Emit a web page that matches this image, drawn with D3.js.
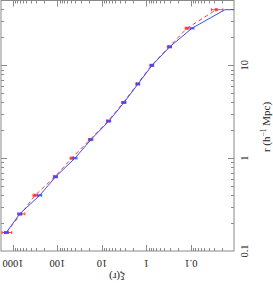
<!DOCTYPE html>
<html>
<head>
<meta charset="utf-8">
<script src="https://cdn.jsdelivr.net/npm/d3@7"></script>
<style>
  body { margin: 0; background: #fff; }
  svg { display: block; font-family: "Liberation Serif", "DejaVu Serif", serif; }
</style>
</head>
<body>
<svg width="273" height="286"></svg>
<script>
// separation r (h^-1 Mpc), shared by both series
const radii = [0.158, 0.251, 0.398, 0.631, 1.0, 1.585, 2.51, 3.98, 6.31, 10, 15.85, 25.1, 39.8, 39.8];
// blue solid series
const xiBlue = [1415, 706, 251, 110, 40.5, 17.7, 7.0, 3.2, 1.55, 0.75, 0.30, 0.095, 0.0172, 0.01];
const errBlue = [140, 60, 25, 10, 4, 1.6, 0.6, 0.3, 0.13, 0.06, 0.025, 0.009, 0, 0];
// red dashed series
const xiRed = [1415, 661, 320, 114, 48, 18.6, 7.3, 3.3, 1.6, 0.77, 0.31, 0.123, 0.027];
const errRed = [350, 120, 35, 10, 4, 1.6, 0.6, 0.3, 0.13, 0.07, 0.03, 0.012, 0.0078];
const xiTicks = [1000, 100, 10, 1, 0.1];
const rTicks = [10, 1, 0.1];

const svg = d3.select("svg");
const pl = 1, pr = 234, pt = 0.5, pb = 251;

const x = d3.scaleLog().domain([1860, 0.0108]).range([pl, pr]);
const y = d3.scaleLog().domain([0.1, 50]).range([pb, pt]);

svg.append("clipPath").attr("id", "clip")
  .append("rect").attr("x", pl).attr("y", pt)
  .attr("width", pr - pl).attr("height", pb - pt);

const frameColor = "#8a8a8a";
const isMajor = (v) => Math.abs(Math.log10(v) - Math.round(Math.log10(v))) < 1e-6;

// frame with ticks on all four sides, pointing inwards
svg.append("rect")
  .attr("x", pl).attr("y", pt)
  .attr("width", pr - pl).attr("height", pb - pt)
  .attr("fill", "none").attr("stroke", frameColor).attr("stroke-width", 1);

const xt = x.ticks().filter((v) => x(v) > pl + 0.5 && x(v) < pr - 0.5);
const yt = y.ticks().filter((v) => y(v) > pt + 0.5 && y(v) < pb - 0.5);

const ticks = svg.append("g").attr("stroke", frameColor).attr("stroke-width", 1);
xt.forEach((v) => {
  const len = isMajor(v) ? 6 : 3;
  const px = Math.round(x(v)) + 0.5;
  ticks.append("line").attr("x1", px).attr("x2", px).attr("y1", pb).attr("y2", pb - len);
  ticks.append("line").attr("x1", px).attr("x2", px).attr("y1", pt).attr("y2", pt + len);
});
yt.forEach((v) => {
  const len = isMajor(v) ? 6 : 3;
  const py = Math.round(y(v)) + 0.5;
  ticks.append("line").attr("y1", py).attr("y2", py).attr("x1", pr).attr("x2", pr - len);
  ticks.append("line").attr("y1", py).attr("y2", py).attr("x1", pl).attr("x2", pl + len);
});

// tick labels (the figure is rotated: bottom labels upside down, right labels turned)
const fmt = (v) => (v < 1 ? "0.1" : String(v));
svg.append("g").selectAll("text").data(xiTicks).join("text")
  .attr("transform", (d) => `translate(${x(d)},${pb + 9}) rotate(180)`)
  .attr("text-anchor", "middle")
  .attr("font-size", 10.5)
  .attr("fill", "#222")
  .text(fmt);

svg.append("g").selectAll("text").data(rTicks).join("text")
  .attr("transform", (d) => `translate(${pr + 14},${y(d)}) rotate(-90)`)
  .attr("text-anchor", "middle")
  .attr("font-size", 10.5)
  .attr("fill", "#222")
  .text(fmt);

svg.append("text")
  .attr("transform", `translate(${x(10) + 15},${pb + 22}) rotate(180)`)
  .attr("text-anchor", "middle")
  .attr("font-size", 11)
  .attr("fill", "#222")
  .text("ξ(r)");

const rLabel = svg.append("text")
  .attr("transform", `translate(${pr + 36},${127}) rotate(-90)`)
  .attr("text-anchor", "middle")
  .attr("font-size", 11)
  .attr("fill", "#222");
rLabel.append("tspan").text("r (h");
rLabel.append("tspan").attr("dy", -4).attr("font-size", 7.5).text("−1");
rLabel.append("tspan").attr("dy", 4).text(" Mpc)");

// data
const plot = svg.append("g").attr("clip-path", "url(#clip)");

function series(xi, err, color, dash, nMarks, size) {
  const pts = xi.map((v, i) => ({ xi: v, r: radii[i], e: err[i] }));
  const line = d3.line().x((d) => x(d.xi)).y((d) => y(d.r));
  plot.append("path").datum(pts)
    .attr("d", line)
    .attr("fill", "none")
    .attr("stroke", color)
    .attr("stroke-width", 1)
    .attr("stroke-dasharray", dash);
  const marks = pts.slice(0, nMarks);
  const g = plot.append("g").attr("stroke", color).attr("stroke-width", 1);
  marks.forEach((d) => {
    if (!d.e) return;
    const cy = y(d.r);
    const x0 = x(d.xi + d.e), x1 = x(Math.max(d.xi - d.e, d.xi * 0.05));
    g.append("line").attr("x1", x0).attr("x2", x1).attr("y1", cy).attr("y2", cy);
    g.append("line").attr("x1", x0).attr("x2", x0).attr("y1", cy - 1.5).attr("y2", cy + 1.5);
    g.append("line").attr("x1", x1).attr("x2", x1).attr("y1", cy - 1.5).attr("y2", cy + 1.5);
  });
  plot.append("g").selectAll("rect").data(marks).join("rect")
    .attr("x", (d) => x(d.xi) - size / 2)
    .attr("y", (d) => y(d.r) - size / 2)
    .attr("width", size).attr("height", size)
    .attr("fill", color);
}

series(xiRed, errRed, "#ff3a3a", "4,3", xiRed.length, 3);
series(xiBlue, errBlue, "#3a4cff", null, 12, 2);
</script>
</body>
</html>
